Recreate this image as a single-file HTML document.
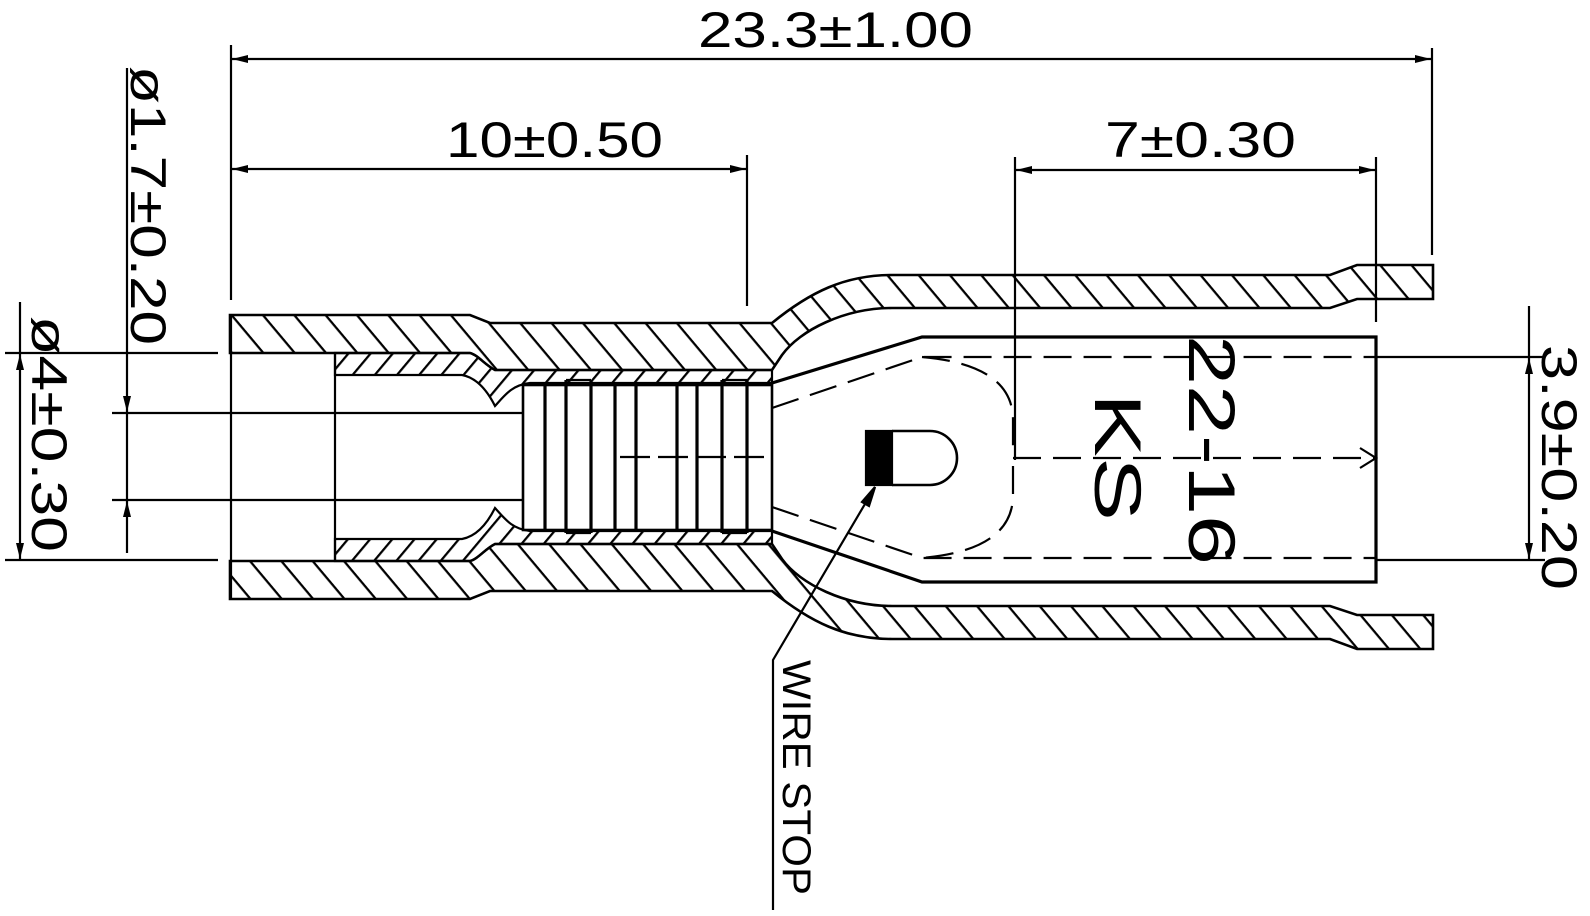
<!DOCTYPE html>
<html><head><meta charset="utf-8"><style>
html,body{margin:0;padding:0;background:#fff;}
svg{display:block;}
text{font-family:"Liberation Sans",sans-serif;fill:#000;}
</style></head><body>
<svg width="1590" height="916" viewBox="0 0 1590 916" xmlns="http://www.w3.org/2000/svg">
<defs>
<pattern id="h1" patternUnits="userSpaceOnUse" width="30" height="24" patternTransform="rotate(50)">
<line x1="0" y1="1" x2="30" y2="1" stroke="#000" stroke-width="2.6"/>
</pattern>
<pattern id="h2" patternUnits="userSpaceOnUse" width="20" height="17" patternTransform="rotate(-50)">
<line x1="0" y1="1" x2="20" y2="1" stroke="#000" stroke-width="2.4"/>
</pattern>
</defs>
<g stroke="#000" fill="none" stroke-width="2.2">
<!-- insulation -->
<path fill="url(#h1)" stroke-width="2.6" d="M230,315 L470,315 L490,323 L772,323 C810,292 845,275 892,275 L1330,275 L1357,265 L1433,265 L1433,299 L1357,299 L1330,308 L892,308 C845,308 800,330 782,355 L772,370 L495,370 C485,365 478,355 470,353 L230,353 Z"/>
<path fill="url(#h1)" stroke-width="2.6" d="M230,599 L470,599 L490,591 L772,591 C810,622 845,639 892,639 L1330,639 L1357,649 L1433,649 L1433,615 L1357,615 L1330,606 L892,606 C845,606 800,584 782,559 L772,544 L495,544 C485,549 478,559 470,561 L230,561 Z"/>
<!-- metal barrel band -->
<path fill="url(#h2)" d="M335,353 L470,353 C478,355 485,365 495,370 L772,370 L772,383 L530,383 C512,385 505,395 495,406 C488,392 478,378 462,375 L335,375 Z"/>
<path fill="url(#h2)" d="M335,561 L470,561 C478,559 485,549 495,544 L772,544 L772,531 L530,531 C512,529 505,519 495,508 C488,522 478,536 462,539 L335,539 Z"/>
<!-- left open tube -->
<line x1="231" y1="315" x2="231" y2="599"/>
<line x1="335" y1="353" x2="335" y2="561"/>
<!-- serration -->
<rect x="523" y="385" width="249" height="145" stroke-width="2.6"/>
<g stroke-width="3.2">
<line x1="545" y1="385" x2="545" y2="530"/><line x1="566" y1="380" x2="566" y2="533"/>
<line x1="591" y1="380" x2="591" y2="533"/><line x1="615" y1="385" x2="615" y2="530"/>
<line x1="636" y1="385" x2="636" y2="530"/><line x1="677" y1="385" x2="677" y2="530"/>
<line x1="697" y1="385" x2="697" y2="530"/><line x1="722" y1="380" x2="722" y2="533"/>
<line x1="747" y1="380" x2="747" y2="533"/>
</g>
<line x1="566" y1="380" x2="591" y2="380"/><line x1="566" y1="533" x2="591" y2="533"/>
<line x1="722" y1="380" x2="747" y2="380"/><line x1="722" y1="533" x2="747" y2="533"/>
<line x1="620" y1="457" x2="772" y2="457" stroke-dasharray="30,8"/>
<!-- contact -->
<path stroke-width="3.2" d="M772,383 L922,337 L1376,337 L1376,582 L922,582 L772,531"/>
<path stroke-dasharray="28,12" d="M772,408 L922,357 L1376,357"/>
<path stroke-dasharray="28,12" d="M772,507 L922,558 L1376,558"/>
<path stroke-dasharray="28,12" d="M922,357 Q1013,365 1013,420 L1013,448"/>
<path stroke-dasharray="28,12" d="M1013,466 L1013,495 Q1013,550 922,558"/>
<path stroke-dasharray="28,12" d="M1013,458 L1376,458"/>
<path d="M1360,448 L1376,458 L1360,468"/>
<!-- wire stop D -->
<rect x="866" y="431" width="26" height="54" fill="#000"/>
<path stroke-width="2.6" d="M892,431 L930,431 A27,27 0 0 1 930,485 L892,485"/>
<!-- leader -->
<path d="M773,910 L773,660 L875,487"/>
<path d="M875,487 L862,502 L869,506 Z" fill="#000"/>
<!-- dims top -->
<line x1="231" y1="45" x2="231" y2="300"/>
<line x1="1432" y1="48" x2="1432" y2="255"/>
<line x1="231" y1="59" x2="1432" y2="59"/>
<line x1="747" y1="155" x2="747" y2="306"/>
<line x1="231" y1="169" x2="747" y2="169"/>
<line x1="1015" y1="157" x2="1015" y2="460"/>
<line x1="1376" y1="157" x2="1376" y2="322"/>
<line x1="1015" y1="170" x2="1376" y2="170"/>
<!-- left dims -->
<line x1="5" y1="353" x2="218" y2="353"/>
<line x1="5" y1="560" x2="218" y2="560"/>
<line x1="20" y1="302" x2="20" y2="560"/>
<line x1="112" y1="413" x2="523" y2="413"/>
<line x1="112" y1="500" x2="523" y2="500"/>
<line x1="127" y1="68" x2="127" y2="553"/>
<!-- right dims -->
<line x1="1376" y1="357" x2="1545" y2="357"/>
<line x1="1376" y1="560" x2="1545" y2="560"/>
<line x1="1529" y1="306" x2="1529" y2="560"/>
</g>
<g fill="#000">
<!-- arrowheads -->
<path d="M232,59 L248,55 L248,63 Z"/><path d="M1431,59 L1415,55 L1415,63 Z"/>
<path d="M232,169 L248,165 L248,173 Z"/><path d="M746,169 L730,165 L730,173 Z"/>
<path d="M1016,170 L1032,166 L1032,174 Z"/><path d="M1375,170 L1359,166 L1359,174 Z"/>
<path d="M20,354 L16,370 L24,370 Z"/><path d="M20,559 L16,543 L24,543 Z"/>
<path d="M127,412 L123,396 L131,396 Z"/><path d="M127,501 L123,517 L131,517 Z"/>
<path d="M1529,358 L1525,374 L1533,374 Z"/><path d="M1529,559 L1525,543 L1533,543 Z"/>
</g>
<text x="698" y="47" font-size="50" textLength="275" lengthAdjust="spacingAndGlyphs">23.3±1.00</text>
<text x="446" y="157" font-size="50" textLength="217" lengthAdjust="spacingAndGlyphs">10±0.50</text>
<text x="1105" y="157" font-size="50" textLength="191" lengthAdjust="spacingAndGlyphs">7±0.30</text>
<text transform="translate(131,66) rotate(90)" font-size="50" textLength="279" lengthAdjust="spacingAndGlyphs">ø1.7±0.20</text>
<text transform="translate(32,316) rotate(90)" font-size="50" textLength="236" lengthAdjust="spacingAndGlyphs">ø4±0.30</text>
<text transform="translate(1542,345) rotate(90)" font-size="50" textLength="245" lengthAdjust="spacingAndGlyphs">3.9±0.20</text>
<text transform="translate(783,660) rotate(90)" font-size="40" textLength="235" lengthAdjust="spacingAndGlyphs">WIRE STOP</text>
<text transform="translate(1189,335) rotate(90)" font-size="66" textLength="230" lengthAdjust="spacingAndGlyphs">22-16</text>
<text transform="translate(1095,393) rotate(90)" font-size="66" textLength="128" lengthAdjust="spacingAndGlyphs">KS</text>
</svg>
</body></html>
